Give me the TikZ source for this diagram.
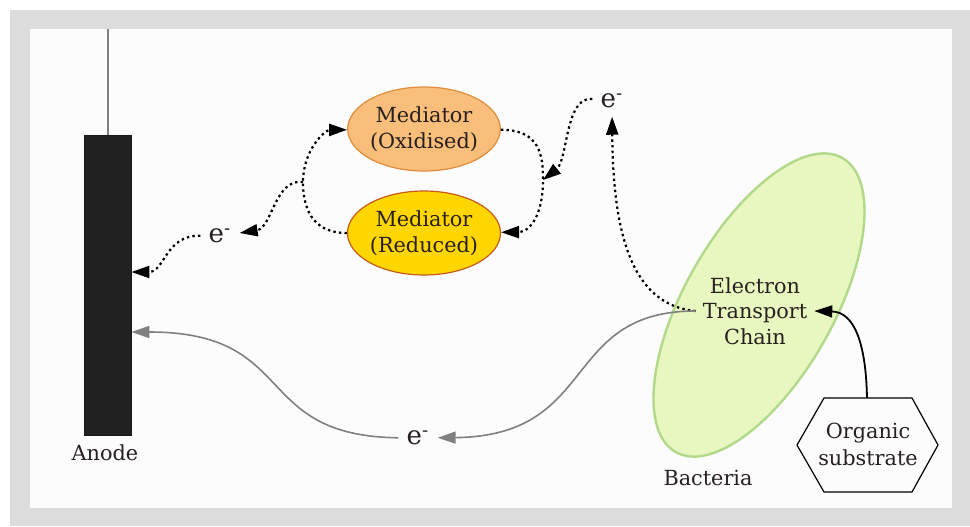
\documentclass[tikz,border=0pt]{standalone}
\usepackage{fontspec}
\setmainfont{DejaVu Serif}
\usetikzlibrary{shapes.geometric,arrows.meta}
\definecolor{bggray}{RGB}{220,220,220}
\definecolor{paper}{RGB}{252,252,252}
\definecolor{inkdark}{RGB}{40,32,32}
\definecolor{oxfill}{RGB}{248,190,122}
\definecolor{oxline}{RGB}{226,140,60}
\definecolor{redfill}{RGB}{255,214,0}
\definecolor{redline}{RGB}{200,90,30}
\definecolor{cellfill}{RGB}{232,247,192}
\definecolor{cellline}{RGB}{178,216,138}
\definecolor{flowgray}{RGB}{128,128,128}
\begin{document}
\begin{tikzpicture}[x=0.5pt,y=-0.5pt,
  every node/.style={text=inkdark},
  txt/.style={font=\fontsize{10.4}{12.8}\selectfont, align=center},
  med/.style={draw, ellipse, line width=0.6pt, minimum width=71pt, minimum height=42pt, inner sep=0pt, txt},
  elec/.style={font=\fontsize{13}{15}\selectfont, inner sep=4pt},
  dots/.style={draw=black, line width=1.1pt, dash pattern=on 1.2pt off 1.6pt, -{Triangle[length=9pt,width=6pt]}},
  flow/.style={draw=flowgray, line width=0.8pt, -{Triangle[length=9pt,width=6pt]}}]
\useasboundingbox (0,0) rectangle (970,526);
\fill[white] (0,0) rectangle (970,526);
\fill[bggray] (10,10) rectangle (970,526);
\fill[paper] (30,29) rectangle (952,508);

\node[draw=black!90, fill=black!87, minimum width=23.5pt, minimum height=150pt, inner sep=0pt] (anode) at (107.5,285.5) {};
\coordinate (wire) at (107.5,29);
\node[txt] (anodelbl) at (105,453) {Anode};

\node[med, fill=oxfill, draw=oxline] (oxi) at (424,129) {Mediator\\(Oxidised)};
\node[med, fill=redfill, draw=redline] (red) at (424,233) {Mediator\\(Reduced)};

\node[elec] (etop) at (612,101) {e\textsuperscript{-}};
\node[elec] (eleft) at (220,236) {e\textsuperscript{-}};
\node[elec] (ebot) at (418,438) {e\textsuperscript{-}};

\node[draw=cellline, fill=cellfill, line width=1.2pt, ellipse, minimum width=169pt, minimum height=74.5pt, rotate=60.5] (cell) at (759,305) {};
\node[txt] (etc) at (755,311) {Electron\\Transport\\Chain};
\node[txt] (bactlbl) at (708,478) {Bacteria};

\node[txt, font=\fontsize{10.4}{13.5}\selectfont] (organic) at (868,444) {Organic\\substrate};
\path[draw, line width=0.6pt] (797,445) -- (824,398) -- (912,398) -- (938,445) -- (912,492) -- (824,492) -- cycle;
\coordinate (hextop) at (867,398);

\coordinate (loopR) at (543,180);
\coordinate (loopL) at (303,182);

\path[draw=flowgray, line width=1pt] (wire) -- (anode.north);

\path[dots] (oxi) .. controls (540,130) and (543,155) .. (loopR) .. controls (543,215) and (530,232) .. (red);
\path[dots] (red) .. controls (310,233) and (303,205) .. (loopL) .. controls (303,150) and (325,130) .. (oxi);
\path[dots] (loopL) .. controls (275,178) and (272,228) .. (eleft);
\path[dots] (eleft) .. controls (165,235) and (165,272) .. ([yshift=6.75pt]anode.east);
\path[dots] (etop) .. controls (565,96) and (568,160) .. (loopR);
\path[dots] (etc.west) .. controls (630,305) and (613,230) .. (etop);

\path[flow] (etc.west) .. controls (560,311) and (600,436) .. (ebot);
\path[flow] (ebot) .. controls (250,436) and (300,332) .. ([yshift=-23.25pt]anode.east);

\path[draw, line width=0.9pt, -{Triangle[length=9pt,width=6pt]}] (hextop) .. controls (866,345) and (855,312) .. (etc.east);
\end{tikzpicture}
\end{document}
